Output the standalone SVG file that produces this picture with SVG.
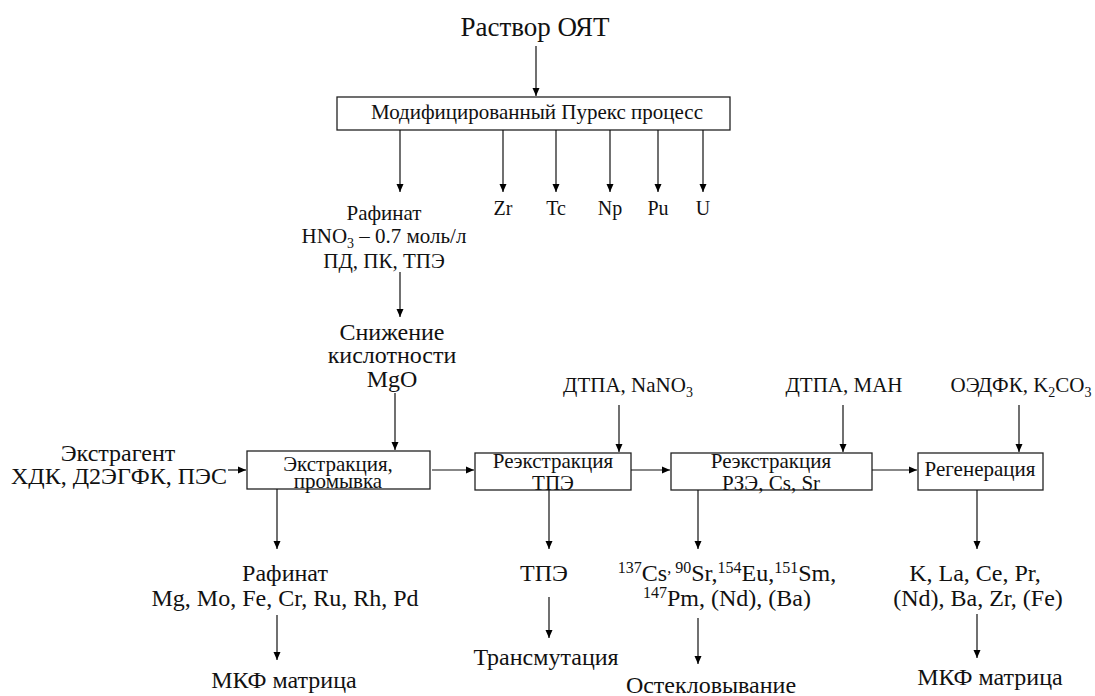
<svg xmlns="http://www.w3.org/2000/svg" width="1095" height="696" viewBox="0 0 1095 696">
<defs>
<marker id="ah" markerWidth="8" markerHeight="8" refX="8" refY="4" orient="auto" markerUnits="userSpaceOnUse">
<path d="M0,0.5 L8,4 L0,7.5 Z" fill="#000"/>
</marker>
<style>
.box{fill:#fff;stroke:#222;stroke-width:1.3}
.c line{stroke:#111;stroke-width:1.2;marker-end:url(#ah)}
.t20{font-size:20px}
.t21{font-size:21px}
.t24{font-size:24px}
.sub{font-size:14px}
.sup{font-size:16px}
</style>
</defs>
<rect width="1095" height="696" fill="#fff"/>
<g font-family="'Liberation Serif', 'Times New Roman', serif" text-anchor="middle" fill="#111">
<g id="title"><text x="535" y="36" font-size="27">Раствор ОЯТ</text></g>
<g id="purex"><rect class="box" x="337" y="97" width="393" height="33"/><text class="t21" x="537" y="119">Модифицированный Пурекс процесс</text></g>
<g id="zr"><text class="t20" x="503" y="215">Zr</text></g>
<g id="tc"><text class="t20" x="556" y="215">Tc</text></g>
<g id="np"><text class="t20" x="610" y="215">Np</text></g>
<g id="pu"><text class="t20" x="658" y="215">Pu</text></g>
<g id="u"><text class="t20" x="703" y="215">U</text></g>
<g id="raffinate1" class="t21">
<text x="384" y="220">Рафинат</text>
<text x="384" y="243">HNO<tspan class="sub" dy="5">3</tspan><tspan dy="-5"> – 0.7 моль/л</tspan></text>
<text x="384" y="268">ПД, ПК, ТПЭ</text>
</g>
<g id="acid" class="t24">
<text x="392" y="340">Снижение</text>
<text x="392" y="363">кислотности</text>
<text x="392" y="387">MgO</text>
</g>
<g id="extragent" class="t24">
<text x="118" y="461">Экстрагент</text>
<text x="119" y="484">ХДК, Д2ЭГФК, ПЭС</text>
</g>
<g id="extraction"><rect class="box" x="247" y="451" width="183" height="38"/><text class="t21" x="338" y="471">Экстракция,</text><text class="t21" x="338" y="488">промывка</text></g>
<g id="reext-tpe"><rect class="box" x="475" y="453" width="156" height="37"/><text class="t21" x="553" y="468">Реэкстракция</text><text class="t21" x="553" y="490">ТПЭ</text></g>
<g id="reext-rze"><rect class="box" x="671" y="453" width="201" height="37"/><text class="t21" x="771" y="468">Реэкстракция</text><text class="t21" x="771" y="490">РЗЭ, Cs, Sr</text></g>
<g id="regen"><rect class="box" x="918" y="453" width="125" height="37"/><text class="t21" x="980" y="476">Регенерация</text></g>
<g id="dtpa1"><text class="t21" x="628" y="392">ДТПА, NaNO<tspan class="sub" dy="5">3</tspan></text></g>
<g id="dtpa2"><text class="t21" x="844" y="392">ДТПА, МАН</text></g>
<g id="oedfk"><text class="t21" x="1021" y="392">ОЭДФК, K<tspan class="sub" dy="5">2</tspan><tspan dy="-5">CO</tspan><tspan class="sub" dy="5">3</tspan></text></g>
<g id="raffinate2" class="t24">
<text x="285" y="581">Рафинат</text>
<text x="285" y="606">Mg, Mo, Fe, Cr, Ru, Rh, Pd</text>
</g>
<g id="mkf1"><text class="t24" x="284" y="688">МКФ матрица</text></g>
<g id="tpe"><text class="t24" x="544" y="581">ТПЭ</text></g>
<g id="transmut"><text class="t24" x="546" y="665">Трансмутация</text></g>
<g id="isotopes" class="t24">
<text x="727" y="581"><tspan class="sup" dy="-8">137</tspan><tspan dy="8">Cs</tspan><tspan class="sup" dy="-8">, 90</tspan><tspan dy="8">Sr,</tspan><tspan class="sup" dy="-8">154</tspan><tspan dy="8">Eu,</tspan><tspan class="sup" dy="-8">151</tspan><tspan dy="8">Sm,</tspan></text>
<text x="727" y="606"><tspan class="sup" dy="-8">147</tspan><tspan dy="8">Pm, (Nd), (Ba)</tspan></text>
</g>
<g id="vitrif"><text class="t24" x="711" y="693">Остекловывание</text></g>
<g id="elements" class="t24">
<text x="975" y="581">K, La, Ce, Pr,</text>
<text x="978" y="606">(Nd), Ba, Zr, (Fe)</text>
</g>
<g id="mkf2"><text class="t24" x="990" y="685">МКФ матрица</text></g>
</g>
<g class="c" id="connectors">
<line x1="536" y1="46" x2="536" y2="96"/>
<line x1="400" y1="130" x2="400" y2="192"/>
<line x1="503" y1="130" x2="503" y2="192"/>
<line x1="556" y1="130" x2="556" y2="192"/>
<line x1="610" y1="130" x2="610" y2="192"/>
<line x1="658" y1="130" x2="658" y2="192"/>
<line x1="703" y1="130" x2="703" y2="192"/>
<line x1="400" y1="272" x2="400" y2="317"/>
<line x1="395" y1="393" x2="395" y2="450"/>
<line x1="228" y1="470" x2="246" y2="470"/>
<line x1="432" y1="470" x2="474" y2="470"/>
<line x1="619" y1="405" x2="619" y2="452"/>
<line x1="631" y1="470" x2="670" y2="470"/>
<line x1="843" y1="405" x2="843" y2="452"/>
<line x1="872" y1="470" x2="917" y2="470"/>
<line x1="1019" y1="405" x2="1019" y2="452"/>
<line x1="277" y1="489" x2="277" y2="549"/>
<line x1="277" y1="615" x2="277" y2="660"/>
<line x1="549" y1="490" x2="549" y2="549"/>
<line x1="549" y1="597" x2="549" y2="638"/>
<line x1="698" y1="490" x2="698" y2="549"/>
<line x1="698" y1="618" x2="698" y2="664"/>
<line x1="977" y1="490" x2="977" y2="549"/>
<line x1="977" y1="614" x2="977" y2="658"/>
</g>
</svg>
